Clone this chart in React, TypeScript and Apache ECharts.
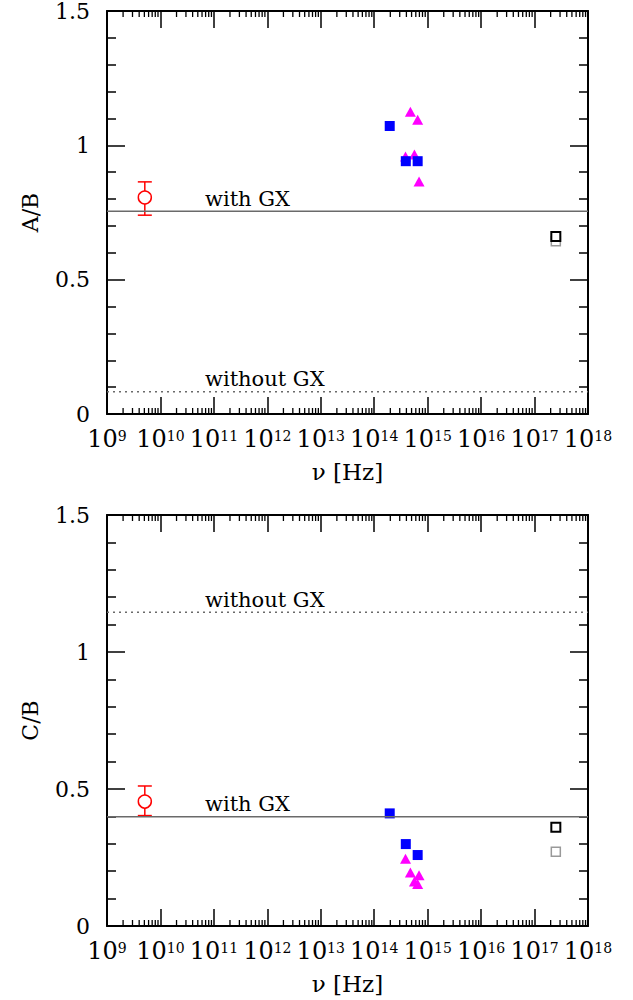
import React, { useEffect, useRef } from "react";
import * as echarts from "echarts";

// ---- data ----
const xMin = 1e9;
const xMax = 1e18;
const yMin = 0;
const yMax = 1.5;
const decades = [9, 10, 11, 12, 13, 14, 15, 16, 17];
const minorMultipliers = [2, 3, 4, 5, 6, 7, 8, 9];

// radio point with error bar [nu, ratio, low, high]
const radioAB = [[5.1e9, 0.806, 0.74, 0.864]];
const radioCB = [[5.1e9, 0.454, 0.403, 0.511]];

// blue squares
const irNu = [1.95e14, 3.9e14, 6.5e14];
const irAB = [1.072, 0.941, 0.941];
const irCB = [0.411, 0.299, 0.259];

// magenta triangles
const optNu = [3.85e14, 4.75e14, 5.65e14, 6.5e14, 6.9e14];
const optAB = [0.958, 1.125, 0.966, 1.095, 0.865];
const optCB = [0.245, 0.195, 0.162, 0.153, 0.185];

// X-ray open squares
const xrayNu = [2.5e17];
const xrayBlackAB = [0.661];
const xrayGrayAB = [0.643];
const xrayBlackCB = [0.36];
const xrayGrayCB = [0.271];

// model levels
const withGX = [0.755, 0.399];
const withoutGX = [0.083, 1.145];
const yNames = ["A/B", "C/B"];
const labelNu = 6.8e10;

const FONT = "DejaVu Serif";

function zipXY(xs: number[], ys: number[]) {
  return xs.map((x, i) => [x, ys[i]]);
}

export default function App() {
  const ref = useRef<HTMLDivElement>(null);
  useEffect(() => {
    document.body.style.margin = "0";
    const chart = echarts.init(ref.current!, undefined, { renderer: "svg" });

    const grids = [
      { left: 107, top: 11, width: 481, height: 403 },
      { left: 107, top: 515, width: 481, height: 411 },
    ];

    const xAxes: any[] = [];
    const yAxes: any[] = [];
    const series: any[] = [];

    const axisLine = { show: true, onZero: false, lineStyle: { color: "#000", width: 2 } };
    const majorTickX = { show: true, inside: true, length: 17, lineStyle: { color: "#000", width: 1.5 } };
    const majorTickY = { show: true, inside: true, length: 18, lineStyle: { color: "#000", width: 1.5 } };
    const minorTickY = { show: true, splitNumber: 5, length: 9, lineStyle: { color: "#000", width: 1.5 } };

    [0, 1].forEach((g) => {
      xAxes.push({
        type: "log",
        logBase: 10,
        gridIndex: g,
        min: xMin,
        max: xMax,
        position: "bottom",
        axisLine,
        axisTick: majorTickX,
        splitLine: { show: false },
        axisLabel: {
          show: true,
          margin: 12,
          formatter: (v: number) => `{b|10}{s|${Math.round(Math.log10(v))}}`,
          rich: {
            b: { fontFamily: FONT, fontSize: 24, lineHeight: 25, color: "#000" },
            s: {
              fontFamily: FONT,
              fontSize: 14,
              lineHeight: 15,
              verticalAlign: "top",
              padding: [3, 0, 0, 0],
              color: "#000",
            },
          },
        },
        name: "ν [Hz]",
        nameLocation: "middle",
        nameGap: 46,
        nameTextStyle: { fontFamily: FONT, fontSize: 23, color: "#000" },
      });
      xAxes.push({
        type: "log",
        logBase: 10,
        gridIndex: g,
        min: xMin,
        max: xMax,
        position: "top",
        axisLine,
        axisTick: majorTickX,
        splitLine: { show: false },
        axisLabel: { show: false },
      });
      yAxes.push({
        type: "value",
        gridIndex: g,
        min: yMin,
        max: yMax,
        interval: 0.5,
        position: "left",
        axisLine,
        axisTick: majorTickY,
        minorTick: minorTickY,
        splitLine: { show: false },
        minorSplitLine: { show: false },
        axisLabel: { show: true, margin: 17, fontFamily: FONT, fontSize: 22, color: "#000" },
        name: yNames[g],
        nameLocation: "middle",
        nameGap: 66,
        nameTextStyle: { fontFamily: FONT, fontSize: 22, color: "#000" },
      });
      yAxes.push({
        type: "value",
        gridIndex: g,
        min: yMin,
        max: yMax,
        interval: 0.5,
        position: "right",
        axisLine,
        axisTick: majorTickY,
        minorTick: minorTickY,
        splitLine: { show: false },
        minorSplitLine: { show: false },
        axisLabel: { show: false },
      });

      const base = { xAxisIndex: g * 2, yAxisIndex: g * 2, silent: true };

      // model lines
      series.push({
        ...base,
        type: "line",
        showSymbol: false,
        data: [
          [xMin, withGX[g]],
          [xMax, withGX[g]],
        ],
        lineStyle: { color: "#6a6a6a", width: 1.5, opacity: 1 },
      });
      series.push({
        ...base,
        type: "line",
        showSymbol: false,
        data: [
          [xMin, withoutGX[g]],
          [xMax, withoutGX[g]],
        ],
        lineStyle: { color: "#6a6a6a", width: 1.5, type: [2, 4], opacity: 1 },
      });

      // radio with error bar
      series.push({
        ...base,
        type: "custom",
        data: g === 0 ? radioAB : radioCB,
        encode: { x: 0, y: [1, 2, 3] },
        renderItem: (_p: any, api: any) => {
          const x = api.value(0);
          const c = api.coord([x, api.value(1)]);
          const lo = api.coord([x, api.value(2)]);
          const hi = api.coord([x, api.value(3)]);
          const st = { stroke: "#ff0000", lineWidth: 1.5, fill: "none" };
          const cap = 7;
          return {
            type: "group",
            children: [
              { type: "line", shape: { x1: c[0], y1: hi[1], x2: c[0], y2: c[1] - 6.5 }, style: st },
              { type: "line", shape: { x1: c[0], y1: c[1] + 6.5, x2: c[0], y2: lo[1] }, style: st },
              { type: "line", shape: { x1: c[0] - cap, y1: hi[1], x2: c[0] + cap, y2: hi[1] }, style: st },
              { type: "line", shape: { x1: c[0] - cap, y1: lo[1], x2: c[0] + cap, y2: lo[1] }, style: st },
              { type: "circle", shape: { cx: c[0], cy: c[1], r: 6.5 }, style: st },
            ],
          };
        },
      });

      series.push({
        ...base,
        type: "scatter",
        symbol: "triangle",
        symbolSize: [11, 10],
        itemStyle: { color: "#ff00ff", opacity: 1 },
        data: zipXY(optNu, g === 0 ? optAB : optCB),
      });
      series.push({
        ...base,
        type: "scatter",
        symbol: "rect",
        symbolSize: 10,
        itemStyle: { color: "#0000ff", opacity: 1 },
        data: zipXY(irNu, g === 0 ? irAB : irCB),
      });
      series.push({
        ...base,
        type: "scatter",
        symbol: "rect",
        symbolSize: 9,
        itemStyle: { color: "#ffffff", borderColor: "#999999", borderWidth: 1.5, opacity: 1 },
        data: zipXY(xrayNu, g === 0 ? xrayGrayAB : xrayGrayCB),
      });
      series.push({
        ...base,
        type: "scatter",
        symbol: "rect",
        symbolSize: 9,
        itemStyle: { color: "#ffffff", borderColor: "#000000", borderWidth: 2, opacity: 1 },
        data: zipXY(xrayNu, g === 0 ? xrayBlackAB : xrayBlackCB),
      });
    });

    chart.setOption({
      animation: false,
      grid: grids,
      xAxis: xAxes,
      yAxis: yAxes,
      series,
    });

    const gfx: any[] = [];
    const line = (x1: number, y1: number, x2: number, y2: number) => ({
      type: "line",
      silent: true,
      z: 10,
      shape: { x1, y1, x2, y2 },
      style: { stroke: "#000000", lineWidth: 1.3, fill: "none" },
    });
    [0, 1].forEach((g) => {
      const finder = { xAxisIndex: g * 2, yAxisIndex: g * 2 } as any;
      const px = (x: number, y: number) => chart.convertToPixel(finder, [x, y]) as number[];

      // logarithmic minor ticks on bottom and top x axes
      decades.forEach((d) => {
        const v = Math.pow(10, d);
        minorMultipliers.forEach((m) => {
          const bm = px(v * m, yMin);
          const tm = px(v * m, yMax);
          gfx.push(line(bm[0], bm[1], bm[0], bm[1] - 6));
          gfx.push(line(tm[0], tm[1], tm[0], tm[1] + 6));
        });
      });

      const pw = px(labelNu, withGX[g]);
      const pwo = px(labelNu, withoutGX[g]);
      gfx.push({
        type: "text",
        x: pw[0],
        y: pw[1] - 2,
        style: { text: "with GX", font: `21px "${FONT}"`, fill: "#000", align: "left", verticalAlign: "bottom" },
      });
      gfx.push({
        type: "text",
        x: pwo[0],
        y: pwo[1] - 2,
        style: { text: "without GX", font: `21px "${FONT}"`, fill: "#000", align: "left", verticalAlign: "bottom" },
      });
    });
    chart.setOption({ graphic: gfx });

    return () => chart.dispose();
  }, []);
  return <div ref={ref} style={{ width: 633, height: 1000 }} />;
}
